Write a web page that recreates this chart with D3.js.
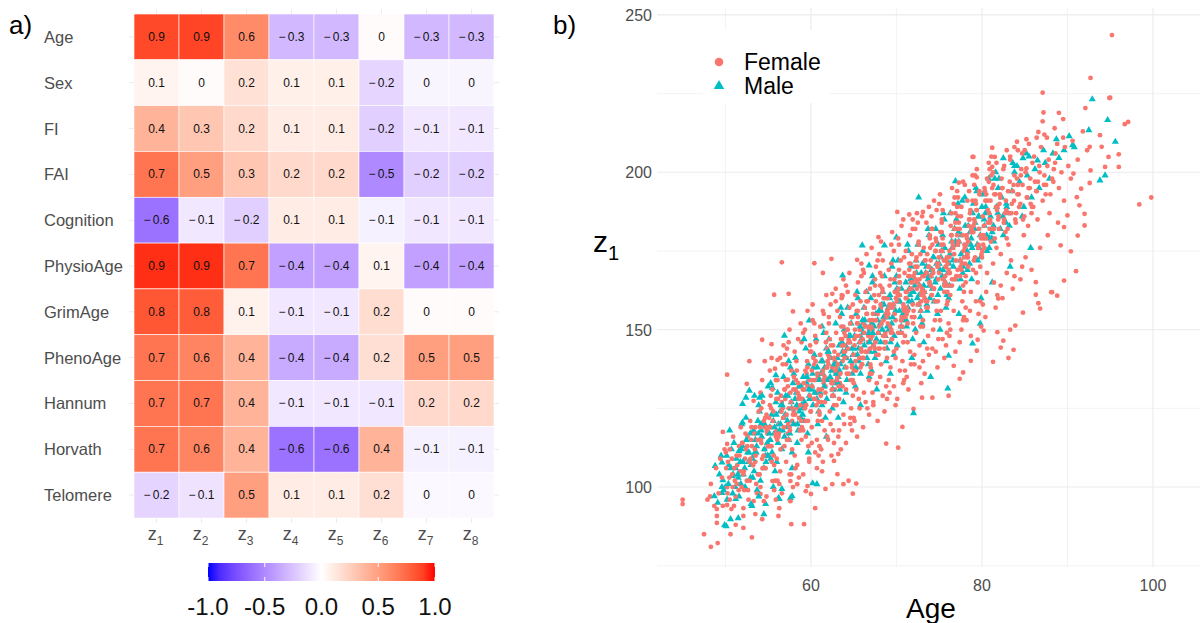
<!DOCTYPE html>
<html>
<head>
<meta charset="utf-8">
<script src="https://cdn.jsdelivr.net/npm/d3@7"></script>
<style>
  body { margin: 0; background: #fff; }
  text { font-family: "Liberation Sans", Arial, sans-serif; }
</style>
</head>
<body>
<svg id="fig" width="1200" height="623"></svg>
<script>
// ---- panel a) data ----
var rowLabels = ["Age", "Sex", "FI", "FAI", "Cognition", "PhysioAge", "GrimAge", "PhenoAge", "Hannum", "Horvath", "Telomere"];
var colLabels = ["1", "2", "3", "4", "5", "6", "7", "8"];
var corrValues = [
    [0.87, 0.88, 0.6, -0.3, -0.3, 0.02, -0.3, -0.3],
    [0.06, 0.02, 0.16, 0.08, 0.08, -0.17, -0.04, -0.04],
    [0.4, 0.3, 0.2, 0.1, 0.1, -0.2, -0.1, -0.1],
    [0.7, 0.5, 0.3, 0.2, 0.2, -0.5, -0.2, -0.2],
    [-0.6, -0.1, -0.2, 0.1, 0.1, -0.06, -0.1, -0.1],
    [0.94, 0.94, 0.7, -0.4, -0.4, 0.06, -0.4, -0.4],
    [0.82, 0.8, 0.07, -0.1, -0.1, 0.18, 0.02, 0.02],
    [0.7, 0.63, 0.4, -0.36, -0.36, 0.17, 0.5, 0.5],
    [0.7, 0.7, 0.4, -0.1, -0.1, -0.1, 0.2, 0.2],
    [0.7, 0.63, 0.4, -0.6, -0.6, 0.4, -0.06, -0.06],
    [-0.18, -0.12, 0.5, 0.1, 0.1, 0.17, -0.03, -0.03]
];
var colorbarTicks = [-1, -0.5, 0, 0.5, 1];

// ---- panel b) data (Age, z1) ----
var xTicks = [60, 80, 100];
var yTicks = [100, 150, 200, 250];
var female = [
[45,96],[45,94.6],[47.9,96],[48.2,97],[49,93],[49,90.8],[49,88.6],[47.5,85],[48.3,81],[49.1,82.2],[50.6,85],[51.2,88],[52.1,87],[53.1,84],[52.1,90.8],[52.1,93.3],[50.2,94.3],[53.3,95.5],[54.5,95.5],[54.3,89.8],[53.5,91.4],[56.3,93.3],[56.2,90.8],[57.7,88.2],[59.2,88.2],[60.5,93.3],[57.6,95.5],[54.1,97.8],[55.5,101.9],[57.6,101.9],[58.4,100.9],[59.6,100.3],[59.4,98.7],[60,97.8],[61.7,99.4],[62.5,100.9],[63.1,104.1],[63.8,100.9],[63.2,110.5],[62.7,108.3],[61.3,105],[64.9,97.9],[65.3,101.1],[64.4,102],[68.8,113.8],[70.2,112.5],[70.7,119.1],[72,124.8],[73,128.4],[74.2,128.4],[76.1,129],[77.4,134.4],[77.8,136.4],[78.7,140.1],[79.4,143.3],[76.7,138.5],[79.5,146.8],[80.2,149.7],[81.3,139.8],[81.8,149.2],[82.5,146.5],[82.2,144.3],[83.1,141],[83.7,143.6],[83.3,150],[83.9,151.3],[84.8,155.4],[86.3,165.1],[86.3,161.1],[86.6,158.4],[86.8,156.7],[88.2,161.9],[88.8,160.8],[81.9,159.9],
[49.7,117.5],[50.2,113.7],[50.2,135.7],[52.8,140],[54.3,146.8],[55.4,145.4],[56.1,140.4],[55.8,137.6],[57.3,134.1],[52.5,132.8],[54.1,130],[55.3,129],[53.3,127.4],[55.7,161.1],[57.4,161.4],[56.6,171.4],[57.9,155.8],[57.4,146],[60.4,171.1],[62.4,172.5],[65.4,172.2],[61.4,168],[62.5,161.4],[63.7,160.8],
[67.9,179.4],[70.1,187.4],[71.5,186.6],[70.8,185],[73.1,187.4],[79,204.9],[77.3,196.7],[79.4,198.4],[78.9,204.9],[81.2,207.8],[81.2,201.7],[81.5,204.9],[83.8,208],[85.2,210.5],[84.1,209.7],[85.2,201.2],[86.6,212.8],[87.1,225.3],[87.2,219],[87.1,216.2],[89,218.9],[89.5,216.9],[92.1,220.4],[92.7,230],[94.9,223.6],[95.2,243.6],[95,223.7],[96.7,215.3],[97.1,216],[96,205.7],[96,201.7],[98.4,189.8],[99.8,192],
[93.8,211.8],[94,208.1],[92.6,208.1],[94.8,204.9],[94.4,201.7],[92.7,200.6],[91.6,194.8],[92.6,196.6],[90.7,199.6],[89.6,191],[92,186.8],[91.4,189.5],[91.1,192.1],[90,186.3],[89.6,182.6],[92,183.1],[91.2,179.9],[89.2,176.8],[90.4,174.9],[91,168.6],[89.6,165.6],[88.1,161.9],
[48.3,101],[48.7,94],[48.9,106],
[49.2,98],[49.4,109],[49.6,103],[49.7,94],[49.9,112],
[50.2,100],[50.3,108],[50.5,112],[50.5,96],[50.8,104],[50.9,116],[50.7,93],[50.1,106],
[51.1,102],[51.3,110],[51.2,97],[51.6,113],[51.7,105],[51.9,100],[51.8,119],[51.4,107],[51,94],
[52.1,104],[52.4,112],[52.2,99],[52.6,116],[52.8,108],[52.5,102],[52.9,121],[52.3,109],[52.7,96],[52,114],
[53.2,107],[53,115],[53.6,101],[53.5,119],[53.3,110],[53.8,104],[53.9,124],[53.1,113],[53.7,98],[53.4,117],[53.5,108],
[54.3,109],[54.6,119],[54,104],[54.8,123],[54.2,114],[54.7,106],[54.4,127],[54.9,117],[54.1,100],[54.5,121],[54.6,112],[54.2,125],
[55.4,113],[55.1,122],[55.7,107],[55.2,126],[55.9,116],[55,110],[55.5,131],[55.3,119],[55.8,102],[55.6,124],[55.2,115],[55.9,134],[55.4,108],
[56.2,116],[56.7,125],[56,109],[56.5,129],[56.3,120],[56.9,113],[56.1,134],[56.8,122],[56.4,105],[56.6,127],[56,118],[56.7,139],[56.3,101],[56.9,131],
[57.5,119],[57,128],[57.8,112],[57.3,132],[57.9,123],[57.2,115],[57.7,137],[57.4,125],[57.1,108],[57.6,130],[57.8,121],[57,142],[57.5,104],[57.3,117],
[58.6,122],[58.2,131],[58.9,115],[58,135],[58.4,125],[58.7,118],[58.3,140],[58.8,128],[58.1,110],[58.5,133],[58.2,120],[58.9,146],[58.4,107],[58.6,129],[58,124],
[59.3,125],[59.8,134],[59.1,118],[59.6,138],[59,128],[59.4,121],[59.9,143],[59.2,131],[59.7,113],[59.5,136],[59.3,126],[59.1,149],[59.8,109],[59.6,132],[59.4,116],
[60.5,128],[60.1,137],[60.8,121],[60.3,141],[60.9,131],[60,124],[60.6,146],[60.2,134],[60.7,115],[60.4,139],[60.9,127],[60.2,153],[60.5,111],[60.8,135],[60.1,119],[60.6,130],
[61.7,130],[61.3,140],[61,123],[61.9,144],[61.5,133],[61.2,127],[61.8,149],[61.4,137],[61.6,118],[61.1,142],[61.7,132],[61.4,156],[61,113],[61.9,138],[61.3,121],[61.6,135],
[62.4,133],[62,142],[62.7,126],[62.2,147],[62.9,136],[62.5,129],[62.1,152],[62.8,140],[62.3,120],[62.6,145],[62.4,134],[62.9,159],[62,115],[62.7,141],[62.2,124],[62.5,138],[62.8,131],
[63.1,135],[63.6,145],[63.3,128],[63.9,149],[63,138],[63.7,132],[63.4,154],[63.2,142],[63.8,123],[63.5,147],[63.1,137],[63.6,161],[63.3,118],[63.9,143],[63,126],[63.7,140],[63.4,133],[63.8,151],
[64.8,138],[64.4,147],[64.1,131],[64.6,152],[64.2,141],[64.9,134],[64.5,157],[64,145],[64.7,125],[64.3,150],[64.8,139],[64.1,164],[64.6,120],[64.4,146],[64.9,129],[64.2,136],[64.7,154],[64,143],
[65.2,140],[65.7,150],[65,133],[65.5,154],[65.9,143],[65.3,137],[65.8,159],[65.1,147],[65.6,128],[65.4,152],[65.2,142],[65.9,167],[65,122],[65.7,148],[65.3,131],[65.8,138],[65.5,156],[65.1,145],
[66.6,143],[66.1,152],[66.9,136],[66.3,157],[66.7,146],[66,139],[66.4,162],[66.8,150],[66.2,130],[66.5,155],[66.9,144],[66.1,169],[66.6,125],[66.3,151],[66.8,134],[66,141],[66.5,159],[66.7,148],
[67.3,145],[67.8,155],[67,138],[67.6,159],[67.2,148],[67.9,142],[67.5,164],[67.1,152],[67.7,133],[67.4,157],[67,147],[67.8,172],[67.3,127],[67.6,153],[67.1,136],[67.9,144],[67.4,161],[67.2,150],
[68.7,148],[68.2,157],[68.9,141],[68.4,162],[68,151],[68.6,144],[68.3,167],[68.8,155],[68.1,135],[68.5,160],[68.7,149],[68,174],[68.4,129],[68.9,156],[68.2,139],[68.6,146],[68.1,164],[68.5,153],
[69.4,150],[69,160],[69.7,143],[69.2,164],[69.9,153],[69.5,147],[69.1,169],[69.6,157],[69.3,138],[69.8,162],[69,152],[69.4,177],[69.7,132],[69.2,158],[69.9,141],[69.5,149],[69.3,166],[69.8,155],
[70.6,153],[70.1,162],[70.8,146],[70.3,167],[70.9,156],[70.2,149],[70.5,172],[70,160],[70.7,140],[70.4,165],[70.6,154],[70.2,179],[70.9,134],[70.4,161],[70,144],[70.7,151],[70.3,169],[70.8,158],
[71.2,155],[71.7,165],[71,148],[71.5,169],[71.9,158],[71.3,152],[71.8,174],[71.1,162],[71.6,143],[71.4,167],[71.2,157],[71.9,182],[71,137],[71.6,163],[71.3,146],[71.8,154],[71.5,171],[71.1,160],
[72.5,158],[72,167],[72.8,151],[72.3,172],[72.9,161],[72.1,154],[72.6,177],[72.4,165],[72.7,145],[72.2,170],[72.9,159],[72.5,184],[72.1,139],[72.7,166],[72.3,149],[72,156],[72.8,174],[72.4,163],
[73.3,160],[73.8,170],[73.1,153],[73.6,174],[73,163],[73.5,157],[73.9,179],[73.2,167],[73.7,148],[73.4,172],[73.3,162],[73,186],[73.8,142],[73.5,168],[73.1,151],[73.6,159],[73.2,176],[73.9,165],
[74.4,163],[74,172],[74.7,156],[74.2,177],[74.9,166],[74.5,159],[74.1,182],[74.8,170],[74.3,150],[74.6,175],[74,164],[74.7,188],[74.2,144],[74.9,171],[74.5,153],[74.1,161],[74.6,179],[74.3,168],
[75.7,165],[75.2,175],[75.9,158],[75.4,179],[75,168],[75.6,162],[75.3,184],[75.8,172],[75.1,153],[75.5,177],[75.7,167],[75,190],[75.4,147],[75.9,173],[75.2,156],[75.6,164],[75.3,181],[75.8,170],
[76.1,168],[76.6,177],[76.3,161],[76.8,182],[76,171],[76.5,164],[76.9,187],[76.2,175],[76.7,156],[76.4,180],[76.1,169],[76.8,192],[76.3,150],[76.6,176],[76,159],[76.5,166],[76.9,184],[76.2,173],
[77.5,170],[77.1,180],[77.8,164],[77.3,184],[77.9,173],[77,167],[77.6,189],[77.2,177],[77.7,159],[77.4,182],[77.5,172],[77.1,194],[77.8,153],[77.3,178],[77.9,162],[77.6,169],[77.2,186],
[78.3,173],[78.8,182],[78.1,167],[78.6,187],[78,176],[78.4,170],[78.9,191],[78.2,180],[78.7,162],[78.5,185],[78.3,174],[78,196],[78.6,156],[78.8,181],[78.1,165],[78.4,178],
[79.6,176],[79.1,185],[79.8,170],[79.3,190],[79.9,179],[79.2,173],[79.7,194],[79,183],[79.5,165],[79.4,188],[79.6,177],[79.2,199],[79.8,159],[79,181],[79.3,168],
[80.2,179],[80.7,188],[80,173],[80.5,193],[80.9,182],[80.3,176],[80.8,197],[80.1,186],[80.6,168],[80.4,191],[80.2,180],[80.9,201],[80.5,162],[80.7,184],
[81.4,182],[81,191],[81.7,176],[81.2,195],[81.9,185],[81.5,179],[81.1,199],[81.8,189],[81.3,171],[81.6,193],[81,184],[81.7,203],[81.4,165],
[82.6,185],[82.1,193],[82.9,179],[82.3,198],[82.7,187],[82,182],[82.5,201],[82.8,191],[82.2,174],[82.4,195],[82.9,168],
[83.2,187],[83.7,196],[83,182],[83.5,190],[83.9,185],[83.3,204],[83.6,194],[83.1,177],[83.8,199],[83.4,172],
[84.5,190],[84.1,198],[84.8,185],[84.3,193],[84,187],[84.7,206],[84.2,196],[84.9,180],[84.6,201],
[85.3,192],[85.8,187],[85.1,200],[85.6,195],[85,207],[85.4,183],[85.9,203],[85.7,190],
[86.4,194],[86,189],[86.7,202],[86.2,197],[86.9,208],[86.5,185],[86.1,205],
[87.5,196],[87.1,191],[87.8,204],[87.3,199],[87.6,211],[87.9,187],
[88.2,198],[88.6,206],[88,193],[88.8,209],[88.4,201],
[89.3,200],[89.7,208],[89,195],[89.5,211],
[90.1,202],[90.6,210],[90.4,198],[91.2,204],[91.8,213],[92.3,207],
[50.25,98],[50.75,109],[50.45,103],[50.05,111],[50.85,100],
[51.35,101],[51.65,110],[51.05,106],[51.95,114],[51.55,99],
[52.15,105],[52.55,113],[52.85,102],[52.35,117],[52.95,109],[52.65,99],
[53.25,107],[53.75,115],[53.45,112],[53.05,119],[53.95,104],[53.55,110],
[54.45,110],[54.85,118],[54.15,115],[54.65,122],[54.35,106],[54.95,113],[54.05,119],
[55.15,113],[55.55,121],[55.85,117],[55.35,125],[55.65,110],[55.05,119],[55.95,128],
[56.25,117],[56.55,124],[56.85,119],[56.15,128],[56.45,112],[56.75,122],[56.95,131],[56.05,115],
[57.35,120],[57.65,127],[57.15,123],[57.95,131],[57.45,115],[57.85,125],[57.05,134],[57.55,118],
[58.15,123],[58.45,130],[58.75,126],[58.25,134],[58.95,119],[58.55,128],[58.35,137],[58.85,121],
[59.45,126],[59.15,133],[59.85,129],[59.35,137],[59.65,121],[59.05,131],[59.55,140],[59.95,124],
[60.35,128],[60.75,136],[60.15,132],[60.55,140],[60.95,124],[60.45,134],[60.05,143],[60.65,126],
[61.25,131],[61.85,138],[61.45,134],[61.05,142],[61.65,127],[61.35,136],[61.75,146],[61.15,129],[61.95,140],
[62.55,133],[62.15,141],[62.85,137],[62.35,145],[62.65,129],[62.05,139],[62.95,149],[62.45,131],[62.75,143],
[63.45,136],[63.85,143],[63.15,139],[63.65,147],[63.25,132],[63.95,141],[63.55,151],[63.05,134],[63.75,145],
[64.15,138],[64.55,146],[64.95,142],[64.25,150],[64.65,134],[64.35,144],[64.85,154],[64.45,136],[64.05,148],
[65.65,141],[65.25,148],[65.85,144],[65.45,152],[65.05,137],[65.75,146],[65.35,156],[65.95,139],[65.15,150],
[66.35,143],[66.75,151],[66.05,147],[66.55,155],[66.95,139],[66.25,149],[66.65,159],[66.15,141],[66.85,153],
[67.55,146],[67.15,153],[67.85,149],[67.35,157],[67.65,142],[67.05,151],[67.95,161],[67.45,144],[67.25,155],
[68.45,148],[68.95,156],[68.25,152],[68.65,160],[68.05,144],[68.85,154],[68.35,163],[68.75,146],[68.15,158],
[69.25,151],[69.65,158],[69.05,155],[69.85,162],[69.45,147],[69.15,157],[69.75,166],[69.35,149],[69.95,160],
[70.55,153],[70.15,161],[70.85,157],[70.35,165],[70.65,149],[70.05,159],[70.95,168],[70.45,151],[70.25,163],
[71.35,156],[71.75,163],[71.15,160],[71.55,167],[71.95,152],[71.25,162],[71.65,171],[71.05,154],[71.85,165],
[72.65,158],[72.25,166],[72.95,162],[72.45,170],[72.05,154],[72.75,164],[72.35,173],[72.85,156],[72.15,168],
[73.15,161],[73.55,168],[73.85,165],[73.35,172],[73.65,157],[73.05,167],[73.95,176],[73.45,159],[73.75,170],
[74.35,163],[74.75,171],[74.05,167],[74.55,175],[74.85,159],[74.25,169],[74.65,178],[74.15,161],[74.95,173],
[75.45,166],[75.05,173],[75.75,170],[75.25,177],[75.95,162],[75.55,172],[75.15,181],[75.65,164],[75.35,175],
[76.25,168],[76.65,176],[76.95,172],[76.45,180],[76.05,164],[76.75,174],[76.35,183],[76.85,166],[76.55,178],
[77.65,171],[77.25,178],[77.85,175],[77.05,182],[77.45,167],[77.95,177],[77.55,186],[77.15,169],[77.75,180],
[78.35,173],[78.75,181],[78.15,177],[78.55,185],[78.95,169],[78.25,179],[78.65,188],[78.05,171],[78.45,183],
[79.55,176],[79.15,184],[79.85,180],[79.35,188],[79.05,172],[79.65,182],[79.25,191],[79.95,174],
[80.45,179],[80.85,187],[80.25,183],[80.65,191],[80.05,175],[80.95,185],[80.35,194],[80.15,177],
[81.25,182],[81.65,189],[81.95,186],[81.45,193],[81.05,178],[81.75,188],[81.35,196],
[82.55,184],[82.15,192],[82.85,188],[82.35,195],[82.75,181],[82.05,190],
[83.45,187],[83.05,194],[83.75,191],[83.25,197],[83.95,184],
[84.35,189],[84.75,196],[84.15,193],[84.55,199],[84.95,186],
[85.25,192],[85.65,198],[85.45,195],[85.85,189],
[86.35,194],[86.75,200],[86.55,197],
[87.25,196],[87.65,202],[87.45,193],[88.55,203],[88.35,197],
[54.3,134],[54.8,97],[54.6,140],
[55.2,137],[55.7,99],[55.4,141],[55.9,96],
[56.4,141],[56.1,102],[56.8,145],[56.6,98],
[57.2,144],[57.7,104],[57.5,150],[57.9,100],[57.1,139],
[58.5,147],[58.2,106],[58.8,152],[58.6,103],[58.1,143],
[59.3,150],[59.8,108],[59.6,156],[59.1,104],[59.9,145],
[60.4,152],[60.9,110],[60.2,158],[60.7,106],[60.5,148],[60.1,114],
[61.5,155],[61.2,112],[61.8,161],[61.4,108],[61.1,151],[61.9,116],
[62.3,158],[62.7,114],[62.9,163],[62.4,110],[62.1,154],[62.6,118],
[63.6,160],[63.2,116],[63.8,166],[63.5,112],[63.1,156],[63.9,120],
[64.3,162],[64.8,118],[64.5,168],[64.1,114],[64.9,158],[64.6,122],
[65.5,165],[65.1,121],[65.9,171],[65.4,116],[65.2,161],[65.7,125],
[66.2,168],[66.8,123],[66.5,174],[66.1,119],[66.9,163],[66.4,127],
[67.6,170],[67.3,126],[67.1,176],[67.8,121],[67.5,166],[67.2,130],
[68.4,172],[68.9,128],[68.2,178],[68.6,124],[68.1,168],[68.8,132],
[69.7,175],[69.2,130],[69.5,181],[69.9,126],[69.4,171],[69.1,134],
[70.3,177],[70.8,133],[70.6,183],[70.1,128],[70.9,173],[70.4,137],
[71.6,180],[71.2,135],[71.9,185],[71.4,131],[71.1,175],[71.7,139],
[72.2,182],[72.7,138],[72.4,187],[72.9,133],[72.6,178],[72.1,142],
[73.5,184],[73.1,140],[73.8,189],[73.3,136],[73.9,180],[73.6,144],
[74.1,186],[74.6,143],[74.4,191],[74.8,138],[74.2,182],[74.9,147],
[75.4,188],[75.8,145],[75.1,193],[75.6,141],[75.3,185],[75.9,149],
[76.7,190],[76.2,148],[76.5,195],[76.9,143],[76.4,187],[76.1,152],
[77.2,192],[77.6,150],[77.8,197],[77.4,146],[77.1,189],[77.9,154],
[78.5,194],[78.2,153],[78.9,199],[78.7,148],[78.3,191],[78.1,157],
[79.1,196],[79.6,155],[79.4,201],[79.9,151],[79.7,193],[79.3,159],
[80.6,198],[80.1,158],[80.8,203],[80.4,154],[80.3,195],
[81.3,200],[81.8,161],[81.1,205],[81.6,157],
[82.6,202],[82.2,164],[82.9,207],[82.4,160],
[83.3,205],[83.8,167],[83.6,163],
[84.2,207],[84.7,170],[84.5,166],
[85.5,209],[85.1,173],[85.8,169],
[86.4,211],[86.8,176],[87.3,212],[87.7,180],[88.5,214],[88.9,184]
];
var male = [
[48.8,106.7],[49.6,107.8],[49.7,102.2],[49.6,100],[49.6,98.1],[48.7,97.1],[50.1,87.6],[50.6,89.8],[51.5,90.1],[53.1,94],[51.2,96.2],[50.8,103.5],[54.7,94.6],[56.3,96.2],[57.6,96.5],[56.6,99.4],[52,120.5],[52,126.4],[53.3,117.2],[51.6,111.5],[60.7,100.9],
[49.9,87.9],[54.5,91.4],[53,94.6],[56.2,96.5],[57.8,97.1],[60.2,101.2],
[59.8,152.9],[56.9,148.1],[55.9,135.5],[55.5,131.5],[54,128.4],[52.4,128.4],[52.8,130.6],
[72.6,192],[76.9,197.2],[66,176.8],[63.7,167.2],[68.6,176.8],[70,179.3],[66.8,170.4],
[92.9,223.2],[94.7,216.6],[92.5,213.4],[88.7,210.5],[90.2,211.5],[90.8,208],[87.2,207],[82.5,204.5],[83.8,202],[86.5,203.8],[89,204.6],[95.6,209.7],[90.6,208.6],[84.8,204.5],[93.8,197.4],[94.4,199],
[76,131.3],[72,123.5],[74,135],[76.1,141.7],[78.9,145.6],[79.8,151.9],
[49.3,104],[49.8,99],[49.5,110],[49.1,95],
[50.4,107],[50,100],[50.7,112],[50.2,96],[50.9,104],[50.5,118],
[51.3,109],[51.8,101],[51,114],[51.6,97],[51.2,106],[51.9,120],[51.5,103],
[52.6,111],[52.1,104],[52.9,117],[52.3,100],[52.7,108],[52.4,122],[52,113],
[53.5,115],[53,107],[53.8,121],[53.2,103],[53.6,111],[53.9,126],[53.3,118],[53.7,99],
[54.2,118],[54.7,110],[54,124],[54.5,106],[54.9,114],[54.3,129],[54.6,120],[54.1,102],
[55.6,121],[55.1,113],[55.9,127],[55.3,109],[55.7,117],[55,132],[55.4,123],[55.8,105],[55.2,119],
[56.4,124],[56.9,116],[56.1,130],[56.6,112],[56.2,120],[56.8,135],[56.5,126],[56,108],[56.7,118],
[57.7,127],[57.2,119],[57.9,133],[57.4,115],[57,123],[57.6,138],[57.3,129],[57.8,111],
[58.3,130],[58.8,122],[58,136],[58.5,118],[58.9,126],[58.2,141],[58.6,132],[58.4,114],
[59.5,133],[59,125],[59.7,139],[59.2,121],[59.8,129],[59.4,144],[59.1,135],[59.6,117],
[60.2,136],[60.7,128],[60.4,142],[60.9,124],[60.1,132],[60.6,147],[60.3,138],[60.8,120],
[61.6,138],[61.1,130],[61.8,144],[61.3,126],[61.9,134],[61.5,149],[61.2,140],[61.7,122],[61.4,136],
[62.3,141],[62.8,133],[62.1,147],[62.6,129],[62.4,137],[62.9,152],[62,143],[62.5,125],[62.7,139],
[63.7,143],[63.2,135],[63.9,150],[63.4,131],[63,139],[63.6,155],[63.3,145],[63.8,127],[63.1,141],
[64.5,146],[64,138],[64.7,152],[64.2,134],[64.9,142],[64.3,157],[64.6,148],[64.1,130],[64.8,144],
[65.1,148],[65.6,140],[65.3,155],[65.8,136],[65,144],[65.5,160],[65.9,150],[65.2,132],[65.7,146],
[66.4,151],[66.9,143],[66.2,157],[66.7,139],[66,147],[66.5,162],[66.3,153],[66.8,135],[66.1,149],
[67.8,153],[67.3,145],[67,160],[67.5,141],[67.9,149],[67.2,165],[67.6,155],[67.1,137],[67.4,151],
[68.2,156],[68.7,148],[68.4,162],[68.9,144],[68.1,152],[68.6,167],[68.3,158],[68.8,140],[68.5,154],
[69.6,158],[69.1,150],[69.8,165],[69.3,146],[69,154],[69.5,170],[69.2,160],[69.7,142],[69.9,156],
[70.3,161],[70.8,153],[70,167],[70.5,149],[70.9,157],[70.2,172],[70.6,163],[70.1,145],[70.4,159],
[71.5,163],[71,155],[71.7,170],[71.2,151],[71.8,159],[71.4,175],[71.1,165],[71.9,147],[71.6,161],
[72.1,166],[72.6,158],[72.3,172],[72.8,154],[72,162],[72.5,177],[72.9,168],[72.2,150],[72.7,164],
[73.4,168],[73.9,160],[73.1,175],[73.6,156],[73.2,164],[73.8,180],[73.5,170],[73,152],[73.7,166],
[74.7,171],[74.2,163],[74.9,177],[74.4,159],[74,167],[74.6,182],[74.3,173],[74.8,155],[74.1,169],
[75.2,173],[75.7,165],[75.4,180],[75.9,161],[75.1,169],[75.6,185],[75.3,175],[75.8,157],[75,171],
[76.5,176],[76,168],[76.8,182],[76.2,164],[76.6,172],[76.3,187],[76.9,178],[76.1,160],
[77.3,178],[77.8,170],[77,185],[77.5,166],[77.9,175],[77.2,190],[77.6,180],[77.4,163],
[78.6,181],[78.1,173],[78.9,187],[78.3,169],[78.7,177],[78,192],[78.4,183],[78.8,166],
[79.2,184],[79.7,176],[79,190],[79.5,172],[79.8,180],[79.3,195],[79.6,186],
[80.4,187],[80.9,179],[80.1,193],[80.6,175],[80.3,183],[80.8,198],[80,189],
[81.7,189],[81.2,181],[81.9,195],[81.4,178],[81,186],[81.6,200],
[82.3,192],[82.8,184],[82,198],[82.5,180],[82.9,189],
[83.5,194],[83,187],[83.8,200],[83.2,183],
[84.4,197],[84.9,189],[84.1,202],[84.7,186],
[85.3,199],[85.8,192],[85.5,205],[86.2,201],[86.7,195],[87.4,203],[87.9,198],[88.3,206],[89.6,207],
[50.35,101],[50.65,106],[50.15,110],[50.85,98],
[51.45,104],[51.75,108],[51.15,100],[51.85,112],
[52.25,106],[52.75,111],[52.45,115],[52.95,103],[52.05,108],
[53.15,109],[53.65,113],[53.35,105],[53.85,117],[53.45,111],
[54.55,112],[54.25,116],[54.75,108],[54.15,120],[54.95,110],
[55.25,115],[55.75,119],[55.45,111],[55.95,123],[55.15,117],
[56.35,118],[56.85,122],[56.15,114],[56.65,126],[56.45,120],
[57.25,121],[57.75,125],[57.55,117],[57.05,129],[57.95,120],
[58.65,124],[58.15,128],[58.45,120],[58.85,132],[58.35,126],
[59.25,127],[59.75,131],[59.05,123],[59.55,135],[59.85,128],
[60.45,130],[60.95,134],[60.25,126],[60.75,138],[60.05,131],
[61.55,132],[61.15,136],[61.85,128],[61.35,140],[61.05,134],
[62.25,135],[62.75,139],[62.55,131],[62.05,143],[62.95,136],
[63.35,137],[63.85,142],[63.15,133],[63.65,146],[63.45,139],
[64.65,140],[64.25,144],[64.85,136],[64.45,148],[64.05,141],
[65.45,142],[65.95,147],[65.25,138],[65.75,151],[65.55,144],
[66.25,145],[66.75,149],[66.55,141],[66.05,153],[66.85,146],
[67.65,147],[67.15,152],[67.45,143],[67.95,156],[67.25,149],
[68.35,150],[68.85,154],[68.15,146],[68.55,158],[68.95,151],
[69.45,152],[69.05,157],[69.75,148],[69.25,161],[69.55,154],
[70.75,155],[70.25,159],[70.55,151],[70.05,163],[70.35,156],
[71.35,157],[71.85,162],[71.15,153],[71.65,166],[71.45,159],
[72.45,160],[72.15,164],[72.85,156],[72.35,168],[72.65,161],
[73.25,162],[73.75,167],[73.55,158],[73.05,171],[73.85,164],
[74.55,165],[74.15,169],[74.85,161],[74.35,173],[74.65,166],
[75.35,167],[75.85,172],[75.15,163],[75.65,176],[75.45,169],
[76.65,170],[76.25,174],[76.95,166],[76.45,178],[76.15,171],
[77.45,172],[77.05,177],[77.75,168],[77.25,181],[77.55,174],
[78.25,175],[78.75,179],[78.55,171],[78.05,183],[78.85,176],
[79.45,177],[79.15,182],[79.85,173],[79.65,186],
[80.55,180],[80.25,185],[80.85,176],[80.45,189],
[81.35,183],[81.85,187],[81.15,179],
[82.45,186],[82.85,190],[82.15,182],
[53.4,129],[53.9,97],[55.3,133],[55.6,100],[57.4,140],[57.8,106],[59.2,147],[59.7,111],
[61.3,151],[61.8,116],[63.5,157],[63.2,122],[65.4,162],[65.8,126],[67.2,167],[67.7,131],
[69.6,172],[69.3,136],[71.3,177],[71.8,141],[73.7,182],[73.2,146],[75.5,187],[75.1,150],
[77.7,191],[77.3,155],[79.4,194],[79.9,160],[81.5,198],[81.2,165],[83.6,203],[83.3,170],[85.2,206],[85.7,176]
];

var svg = d3.select("#fig");
var gridCol = "#ebebeb";
var axisCol = "#4d4d4d";

// ===================== a) heatmap =====================
var fill = d3.scaleLinear()
    .domain([-1, 0, 1])
    .range(["blue", "white", "red"])
    .interpolate(d3.interpolateLab);

var hx = d3.scaleBand().domain(colLabels).range([134, 494]);
var hy = d3.scaleBand().domain(rowLabels).range([14, 518]);

var ga = svg.append("g");

// background grid (theme_minimal)
ga.selectAll(".vg").data(colLabels).enter().append("line")
    .attr("x1", function(d) { return hx(d) + hx.bandwidth() / 2; })
    .attr("x2", function(d) { return hx(d) + hx.bandwidth() / 2; })
    .attr("y1", 9).attr("y2", 523)
    .attr("stroke", gridCol).attr("stroke-width", 1);
ga.selectAll(".hg").data(rowLabels).enter().append("line")
    .attr("y1", function(d) { return hy(d) + hy.bandwidth() / 2; })
    .attr("y2", function(d) { return hy(d) + hy.bandwidth() / 2; })
    .attr("x1", 129).attr("x2", 499)
    .attr("stroke", gridCol).attr("stroke-width", 1);

var cells = [];
rowLabels.forEach(function(r, i) {
    colLabels.forEach(function(c, j) {
        cells.push({ row: r, col: c, value: corrValues[i][j] });
    });
});

function fmtCorr(v) {
    var r = Math.round(v * 10) / 10;
    if (r === 0) return "0";
    if (r < 0) return "\u2212\u2009" + Math.abs(r);
    return String(r);
}

ga.selectAll(".tile").data(cells).enter().append("rect")
    .attr("x", function(d) { return hx(d.col); })
    .attr("y", function(d) { return hy(d.row); })
    .attr("width", hx.bandwidth())
    .attr("height", hy.bandwidth())
    .attr("fill", function(d) { return fill(d.value); })
    .attr("stroke", "white")
    .attr("stroke-width", 0.6);

ga.selectAll(".lab").data(cells).enter().append("text")
    .attr("x", function(d) { return hx(d.col) + hx.bandwidth() / 2; })
    .attr("y", function(d) { return hy(d.row) + hy.bandwidth() / 2 + 4; })
    .attr("text-anchor", "middle")
    .attr("font-size", 12)
    .attr("fill", "#111")
    .text(function(d) { return fmtCorr(d.value); });

// row labels
ga.selectAll(".rl").data(rowLabels).enter().append("text")
    .attr("x", 44)
    .attr("y", function(d) { return hy(d) + hy.bandwidth() / 2 + 6; })
    .attr("font-size", 16.5)
    .attr("fill", axisCol)
    .text(function(d) { return d; });

// column labels z_i
var cl = ga.selectAll(".cl").data(colLabels).enter().append("text")
    .attr("x", function(d) { return hx(d) + hx.bandwidth() / 2 - 1; })
    .attr("y", 540)
    .attr("text-anchor", "middle")
    .attr("font-size", 18)
    .attr("fill", axisCol);
cl.append("tspan").text("z");
cl.append("tspan").attr("dy", 5).attr("font-size", 12).text(function(d) { return d; });

// colour bar
var cb = d3.scaleLinear().domain([-1, 1]).range([208, 435]);
var grad = svg.append("defs").append("linearGradient").attr("id", "cbgrad");
d3.range(0, 21).forEach(function(k) {
    var v = -1 + k / 10;
    grad.append("stop").attr("offset", (k * 5) + "%").attr("stop-color", fill(v));
});
ga.append("rect")
    .attr("x", cb(-1)).attr("y", 563)
    .attr("width", cb(1) - cb(-1)).attr("height", 18)
    .attr("fill", "url(#cbgrad)");
colorbarTicks.forEach(function(t) {
    ga.append("line").attr("x1", cb(t)).attr("x2", cb(t)).attr("y1", 563).attr("y2", 567)
        .attr("stroke", "white").attr("stroke-width", 1);
    ga.append("line").attr("x1", cb(t)).attr("x2", cb(t)).attr("y1", 577).attr("y2", 581)
        .attr("stroke", "white").attr("stroke-width", 1);
});
ga.selectAll(".cbl").data(colorbarTicks).enter().append("text")
    .attr("x", function(d) { return cb(d); })
    .attr("y", 615)
    .attr("text-anchor", "middle")
    .attr("font-size", 24)
    .attr("fill", "#111")
    .text(function(d) { return d3.format(".1f")(d).replace("\u2212", "-"); });

svg.append("text").attr("x", 9).attr("y", 34).attr("font-size", 26).text("a)");

// ===================== b) scatter =====================
var sx = d3.scaleLinear().domain([42, 105.5]).range([657, 1200]);
var sy = d3.scaleLinear().domain([74.6, 252.2]).range([567, 8]);

var gb = svg.append("g");

// minor grid
[50, 70, 90].forEach(function(v) {
    gb.append("line").attr("x1", sx(v)).attr("x2", sx(v)).attr("y1", 8).attr("y2", 567)
        .attr("stroke", gridCol).attr("stroke-width", 0.6);
});
[75, 125, 175, 225].forEach(function(v) {
    gb.append("line").attr("y1", sy(v)).attr("y2", sy(v)).attr("x1", 657).attr("x2", 1200)
        .attr("stroke", gridCol).attr("stroke-width", 0.6);
});
// major grid
xTicks.forEach(function(v) {
    gb.append("line").attr("x1", sx(v)).attr("x2", sx(v)).attr("y1", 8).attr("y2", 567)
        .attr("stroke", gridCol).attr("stroke-width", 1.1);
});
yTicks.forEach(function(v) {
    gb.append("line").attr("y1", sy(v)).attr("y2", sy(v)).attr("x1", 657).attr("x2", 1200)
        .attr("stroke", gridCol).attr("stroke-width", 1.1);
});

// interleave the two groups so neither sits fully on top
var pts = [];
var n = Math.max(female.length, male.length);
for (var i = 0; i < n; i++) {
    if (i < female.length) pts.push({ age: female[i][0], z: female[i][1], sex: "F" });
    if (i < male.length) pts.push({ age: male[i][0], z: male[i][1], sex: "M" });
}

var tri = d3.symbol().type(d3.symbolTriangle).size(22);
gb.selectAll(".pt").data(pts).enter().each(function(d) {
    var sel = d3.select(this);
    if (d.sex === "F") {
        sel.append("circle")
            .attr("cx", sx(d.age)).attr("cy", sy(d.z)).attr("r", 2.4)
            .attr("fill", "#F8766D");
    } else {
        sel.append("path")
            .attr("d", tri)
            .attr("transform", "translate(" + sx(d.age) + "," + sy(d.z) + ")")
            .attr("fill", "#00BFC4");
    }
});

// axes labels
gb.selectAll(".xt").data(xTicks).enter().append("text")
    .attr("x", function(d) { return sx(d); })
    .attr("y", 591)
    .attr("text-anchor", "middle")
    .attr("font-size", 16)
    .attr("fill", axisCol)
    .text(function(d) { return d; });
gb.selectAll(".yt").data(yTicks).enter().append("text")
    .attr("x", 652)
    .attr("y", function(d) { return sy(d) + 6; })
    .attr("text-anchor", "end")
    .attr("font-size", 16)
    .attr("fill", axisCol)
    .text(function(d) { return d; });

gb.append("text").attr("x", 931).attr("y", 618).attr("text-anchor", "middle")
    .attr("font-size", 28).attr("fill", "#000").text("Age");
var yt = gb.append("text").attr("x", 593).attr("y", 252).attr("font-size", 30).attr("fill", "#000");
yt.append("tspan").text("z");
yt.append("tspan").attr("dy", 8).attr("font-size", 20).text("1");

// legend
gb.append("rect").attr("x", 703).attr("y", 30).attr("width", 127).attr("height", 73).attr("fill", "white");
gb.append("circle").attr("cx", 719).attr("cy", 62).attr("r", 4.3).attr("fill", "#F8766D");
gb.append("path").attr("d", d3.symbol().type(d3.symbolTriangle).size(48))
    .attr("transform", "translate(719,86)").attr("fill", "#00BFC4");
gb.append("text").attr("x", 744).attr("y", 70).attr("font-size", 23).text("Female");
gb.append("text").attr("x", 744).attr("y", 94).attr("font-size", 23).text("Male");

svg.append("text").attr("x", 553).attr("y", 34).attr("font-size", 26).text("b)");
</script>
</body>
</html>
